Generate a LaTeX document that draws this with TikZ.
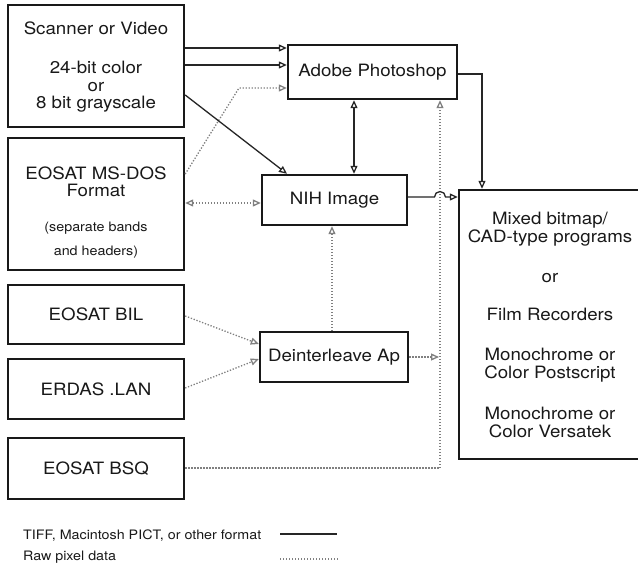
\documentclass[tikz,border=0pt]{standalone}
\usepackage{fontspec}
\setmainfont{TeX Gyre Heros}[FakeStretch=1.1]
\usetikzlibrary{arrows.meta}
\begin{document}
\begin{tikzpicture}[x=1pt,y=-1pt,
  box/.style={draw=black!90, line width=2.4pt, inner sep=0pt},
  txt/.style={align=center, font=\fontsize{17}{17.5}\selectfont, inner sep=0pt, text=black!90},
  smalltxt/.style={align=center, font=\fontsize{13}{24}\selectfont, inner sep=0pt, text=black!90},
  legtxt/.style={anchor=west, font=\fontsize{13}{14}\selectfont, inner sep=0pt, text=black!90},
  tip/.style={-{Triangle[open,length=8pt,width=7pt,fill=white]}},
  bitip/.style={{Triangle[open,length=8pt,width=7pt,fill=white]}-{Triangle[open,length=8pt,width=7pt,fill=white]}},
  solidc/.style={line width=1.3pt, draw=black!85},
  dotc/.style={line width=1.3pt, draw=black!50, dash pattern=on 1.3pt off 1.7pt}]
\useasboundingbox[fill=white] (0,0) rectangle (638,567);

% boxes
\node[box, minimum width=176, minimum height=122] (scan) at (96,66) {};
\node[box, minimum width=176, minimum height=132] (msdos) at (96,204) {};
\node[box, minimum width=176, minimum height=59] (bil) at (96,314.5) {};
\node[box, minimum width=176, minimum height=60] (erdas) at (96,389) {};
\node[box, minimum width=176, minimum height=61] (bsq) at (96,468.5) {};
\node[box, minimum width=169, minimum height=54] (ps) at (372.5,72) {};
\node[box, minimum width=145, minimum height=50] (nih) at (334.5,200) {};
\node[box, minimum width=148, minimum height=50] (dei) at (334,357) {};
\node[box, minimum width=186, minimum height=269] (mixed) at (552,324.5) {};

% texts
\node[txt] (scanA) at (96,28.5) {Scanner or Video};
\node[txt] (scanB) at (96,87) {24-bit color\\or\\8 bit grayscale};
\node[txt] (msdosA) at (96,182) {EOSAT MS-DOS\\Format};
\node[smalltxt] (msdosB) at (96,240) {(separate bands\\and headers)};
\node[txt] (bilT) at (bil.center) {EOSAT BIL};
\node[txt] (erdasT) at (erdas.center) {ERDAS .LAN};
\node[txt] (bsqT) at (bsq.center) {EOSAT BSQ};
\node[txt] (psT) at (ps.center) {Adobe Photoshop};
\node[txt] (nihT) at (nih.center) {NIH Image};
\node[txt] (deiT) at (dei.center) {Deinterleave Ap};
\node[txt] (mixA) at (550,229) {Mixed bitmap/\\CAD-type programs};
\node[txt] (mixB) at (550,278) {or};
\node[txt] (mixC) at (550,314.5) {Film Recorders};
\node[txt] (mixD) at (550,365) {Monochrome or\\Color Postscript};
\node[txt] (mixE) at (550,422.5) {Monochrome or\\Color Versatek};

% connectors
\draw[solidc,tip] (scan.east |- 0,48) -- (ps.west |- 0,48);
\draw[solidc,tip] (scan.east |- 0,65) -- (ps.west |- 0,65);
\coordinate (bendA) at (239,88);
\draw[dotc,tip] (msdos.east |- 0,174) -- (bendA) -- (ps.west |- 0,88);
\draw[solidc,tip] (scan.east |- 0,95) -- (nih.north -| 287,0);
\draw[dotc,bitip] (msdos.east |- 0,203) -- (nih.west |- 0,203);
\draw[solidc,bitip] (ps.south -| 354,0) -- (nih.north -| 354,0);
\coordinate (bendB) at (440,468);
\draw[dotc,tip] (bsq.east |- 0,468) -- (bendB) -- (ps.south -| 440,0);
\draw[solidc,tip] (nih.east |- 0,197) -- (434.5,197) arc[start angle=180, end angle=360, radius=5.5] -- (mixed.west |- 0,197);
\coordinate (bendC) at (482,74);
\draw[solidc,tip] (ps.east |- 0,74) -- (bendC) -- (mixed.north -| 482,0);
\draw[dotc,tip] (dei.north -| 332,0) -- (nih.south -| 332,0);
\coordinate (deiOut) at (439,357);
\draw[dotc,tip] (dei.east |- 0,357) -- (deiOut);
\draw[dotc,tip] (bil.east |- 0,316) -- (dei.west |- 0,344);
\draw[dotc,tip] (erdas.east |- 0,388) -- (dei.west |- 0,359);

% legend
\node[legtxt] (legA) at (23,536) {TIFF, Macintosh PICT, or other format};
\node[legtxt] (legB) at (23,557.5) {Raw pixel data};
\coordinate (lsA1) at (280,534);
\coordinate (lsA2) at (337,534);
\coordinate (lsB1) at (280,559);
\coordinate (lsB2) at (338,559);
\draw[solidc] (lsA1) -- (lsA2);
\draw[dotc] (lsB1) -- (lsB2);
\end{tikzpicture}
\end{document}
